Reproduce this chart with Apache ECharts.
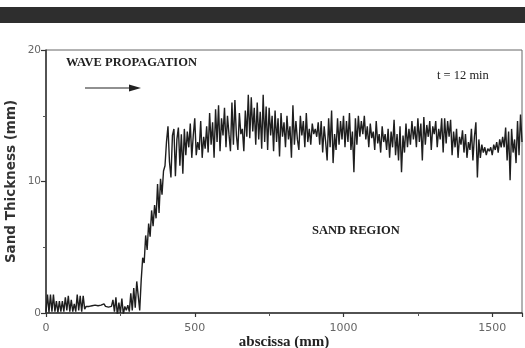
<!DOCTYPE html>
<html>
<head>
<meta charset="utf-8">
<title>Sand Thickness Profile</title>
<script src="https://cdn.jsdelivr.net/npm/echarts@6/dist/echarts.min.js"></script>
<style>
  html, body { margin: 0; padding: 0; background: #fff; }
  #chart { width: 525px; height: 348px; }
</style>
</head>
<body>
<div id="chart"></div>
<script>
// Sampling grid along the flume (mm)
const xStart = 0;
const xStep = 5;

// Sand thickness (mm), one row per 50 mm of abscissa
const thicknessRows = [
  [0.1, 1.4, 0.05, 1.4, 0.1, 1.4, 0.1, 0.9, 0.05, 0.9],        // 0–45
  [0.1, 0.9, 0.1, 1.2, 0.2, 1.3, 0.1, 1.0, 0.1, 0.7],          // 50–95
  [0.1, 1.4, 0.2, 1.3, 0.1, 1.3, 0.3, 0.5, 0.45, 0.5],         // 100–145
  [0.4, 0.55, 0.5, 0.6, 0.5, 0.55, 0.45, 0.6, 0.5, 0.7],       // 150–195
  [0.5, 0.55, 0.45, 0.6, 0.5, 1.0, 0.1, 1.2, -0.2, 0.8],       // 200–245
  [0.0, 1.1, -0.1, 0.5, 0.2, 0.6, 0.1, 1.5, 0.2, 1.9],         // 250–295
  [0.4, 2.4, 2.3, 0.2, 2.5, 4.2, 3.8, 5.9, 4.8, 6.8],          // 300–345
  [5.8, 7.8, 6.6, 8.2, 7.2, 9.8, 7.6, 10.2, 9.0, 10.8],        // 350–395
  [11.2, 13.0, 14.2, 11.5, 10.3, 13.5, 14.0, 10.4, 13.2, 14.1],// 400–445
  [11.2, 13.6, 10.6, 14.0, 12.0, 13.8, 12.6, 14.4, 11.8, 13.5],// 450–495
  [14.8, 12.0, 13.0, 12.4, 14.6, 11.8, 13.4, 12.5, 14.2, 12.2],// 500–545
  [15.2, 12.8, 14.5, 11.8, 15.5, 13.0, 15.8, 12.3, 14.8, 13.5],// 550–595
  [15.6, 12.6, 15.0, 13.6, 12.3, 16.0, 12.8, 16.2, 13.5, 12.4],// 600–645
  [15.2, 13.6, 14.0, 12.3, 15.4, 13.4, 16.6, 13.3, 16.4, 13.8],// 650–695
  [15.6, 12.8, 16.0, 13.2, 15.3, 12.5, 16.6, 13.0, 15.7, 12.4],// 700–745
  [15.6, 13.5, 15.0, 12.3, 15.4, 13.0, 14.8, 11.9, 15.2, 13.4],// 750–795
  [14.5, 12.6, 15.0, 13.2, 14.2, 11.8, 15.8, 12.8, 14.6, 13.2],// 800–845
  [12.4, 15.0, 13.5, 14.6, 12.6, 15.2, 13.0, 14.0, 12.8, 14.4],// 850–895
  [13.6, 14.0, 13.4, 14.5, 12.8, 14.6, 12.2, 14.2, 13.0, 11.6],// 900–945
  [14.8, 12.6, 15.4, 11.4, 13.6, 12.4, 14.8, 12.8, 14.6, 13.2],// 950–995
  [15.0, 12.6, 14.6, 13.0, 15.2, 12.4, 13.8, 10.7, 14.8, 12.8],// 1000–1045
  [15.0, 13.4, 14.6, 13.6, 15.0, 13.2, 14.2, 12.6, 14.4, 13.3],// 1050–1095
  [13.8, 12.4, 14.6, 12.9, 13.6, 12.2, 14.2, 13.0, 13.6, 12.4],// 1100–1145
  [14.0, 11.8, 13.8, 12.6, 14.7, 12.0, 13.6, 11.6, 14.2, 10.7],// 1150–1195
  [13.5, 12.2, 14.4, 12.6, 14.0, 12.8, 14.6, 13.2, 14.2, 12.6],// 1200–1245
  [14.8, 13.0, 14.4, 11.6, 14.9, 12.8, 14.3, 13.4, 14.6, 12.4],// 1250–1295
  [14.2, 13.6, 14.6, 12.6, 14.0, 13.2, 14.8, 12.2, 14.8, 12.9],// 1300–1345
  [14.6, 13.4, 14.7, 12.0, 13.8, 12.6, 14.0, 11.8, 13.4, 12.8],// 1350–1395
  [13.9, 12.2, 13.6, 11.8, 13.0, 12.4, 14.0, 11.6, 13.4, 14.5],// 1400–1445
  [10.3, 13.2, 11.8, 12.8, 12.2, 12.6, 12.0, 12.5, 12.3, 12.6],// 1450–1495
  [12.0, 12.8, 12.4, 13.0, 12.2, 13.2, 12.6, 13.4, 12.6, 14.1],// 1500–1545
  [11.6, 13.8, 10.1, 14.0, 12.2, 13.2, 11.4, 14.6, 12.0, 15.1],// 1550–1595
  [13.0]                                                       // 1600
];

// Axis ranges and tick labels
const xTicks = [0, 500, 1000, 1500];
const yTicks = [0, 10, 20];

const thickness = thicknessRows.flat();
const profile = thickness.map((v, i) => [xStart + i * xStep, v]);

const serif = '"Liberation Serif", "Times New Roman", serif';
const sans = '"DejaVu Sans", "Liberation Sans", sans-serif';

const chart = echarts.init(document.getElementById('chart'), null, { renderer: 'canvas' });

chart.setOption({
  animation: false,
  backgroundColor: '#fff',
  grid: {
    left: 46, top: 50, width: 476, height: 263,
    outerBoundsMode: 'none', containLabel: false,
    show: true, borderColor: '#666', borderWidth: 1, backgroundColor: 'transparent'
  },
  xAxis: {
    type: 'value', min: 0, max: 1600, interval: 500,
    name: 'abscissa (mm)', nameLocation: 'middle', nameGap: 22, nameMoveOverlap: false,
    nameTextStyle: { fontFamily: serif, fontWeight: 'bold', fontSize: 15, color: '#222' },
    axisLine: { show: true, lineStyle: { color: '#333', width: 1.5 } },
    axisTick: { show: true, length: 4, lineStyle: { color: '#333', width: 1.2 } },
    minorTick: { show: true, splitNumber: 2, length: 3, lineStyle: { color: '#555' } },
    splitLine: { show: false },
    axisLabel: {
      margin: 10, fontFamily: sans, fontSize: 11, color: '#666',
      showMaxLabel: false,
      formatter: v => (xTicks.includes(v) ? String(v) : '')
    }
  },
  yAxis: {
    type: 'value', min: 0, max: 20, interval: 10,
    name: 'Sand Thickness (mm)', nameLocation: 'middle', nameGap: 28, nameMoveOverlap: false,
    nameTextStyle: { fontFamily: sans, fontWeight: 'bold', fontSize: 13.5, color: '#333' },
    axisLine: { show: true, lineStyle: { color: '#333', width: 1.5 } },
    axisTick: { show: true, length: 5, lineStyle: { color: '#333', width: 1.2 } },
    minorTick: { show: true, splitNumber: 2, length: 3, lineStyle: { color: '#555' } },
    splitLine: { show: false },
    axisLabel: {
      margin: 5, fontFamily: sans, fontSize: 10.5, color: '#666',
      formatter: v => (yTicks.includes(v) ? String(v) : '')
    }
  },
  series: [{
    type: 'line',
    data: profile,
    showSymbol: false,
    symbol: 'none',
    lineStyle: { color: '#1e1e1e', width: 1.4 },
    z: 3
  }],
  graphic: [
    // dark banner along the top edge
    { type: 'rect', left: 0, top: 7, shape: { width: 525, height: 16 },
      style: { fill: '#2e2e2e' }, z: 10 },
    { type: 'text', left: 66, top: 56,
      style: { text: 'WAVE PROPAGATION', font: 'bold 12.5px ' + serif, fill: '#222' }, z: 10 },
    // direction of wave travel
    { type: 'line', shape: { x1: 85, y1: 88, x2: 131, y2: 88 },
      style: { stroke: '#222', lineWidth: 1.2 }, z: 10 },
    { type: 'polygon', shape: { points: [[129, 84.5], [141, 88], [129, 91.5]] },
      style: { fill: '#222' }, z: 10 },
    { type: 'text', left: 437, top: 69,
      style: { text: 't = 12 min', font: '12.5px ' + serif, fill: '#222' }, z: 10 },
    { type: 'text', left: 312, top: 224,
      style: { text: 'SAND REGION', font: 'bold 12.5px ' + serif, fill: '#222' }, z: 10 }
  ]
});
</script>
</body>
</html>
